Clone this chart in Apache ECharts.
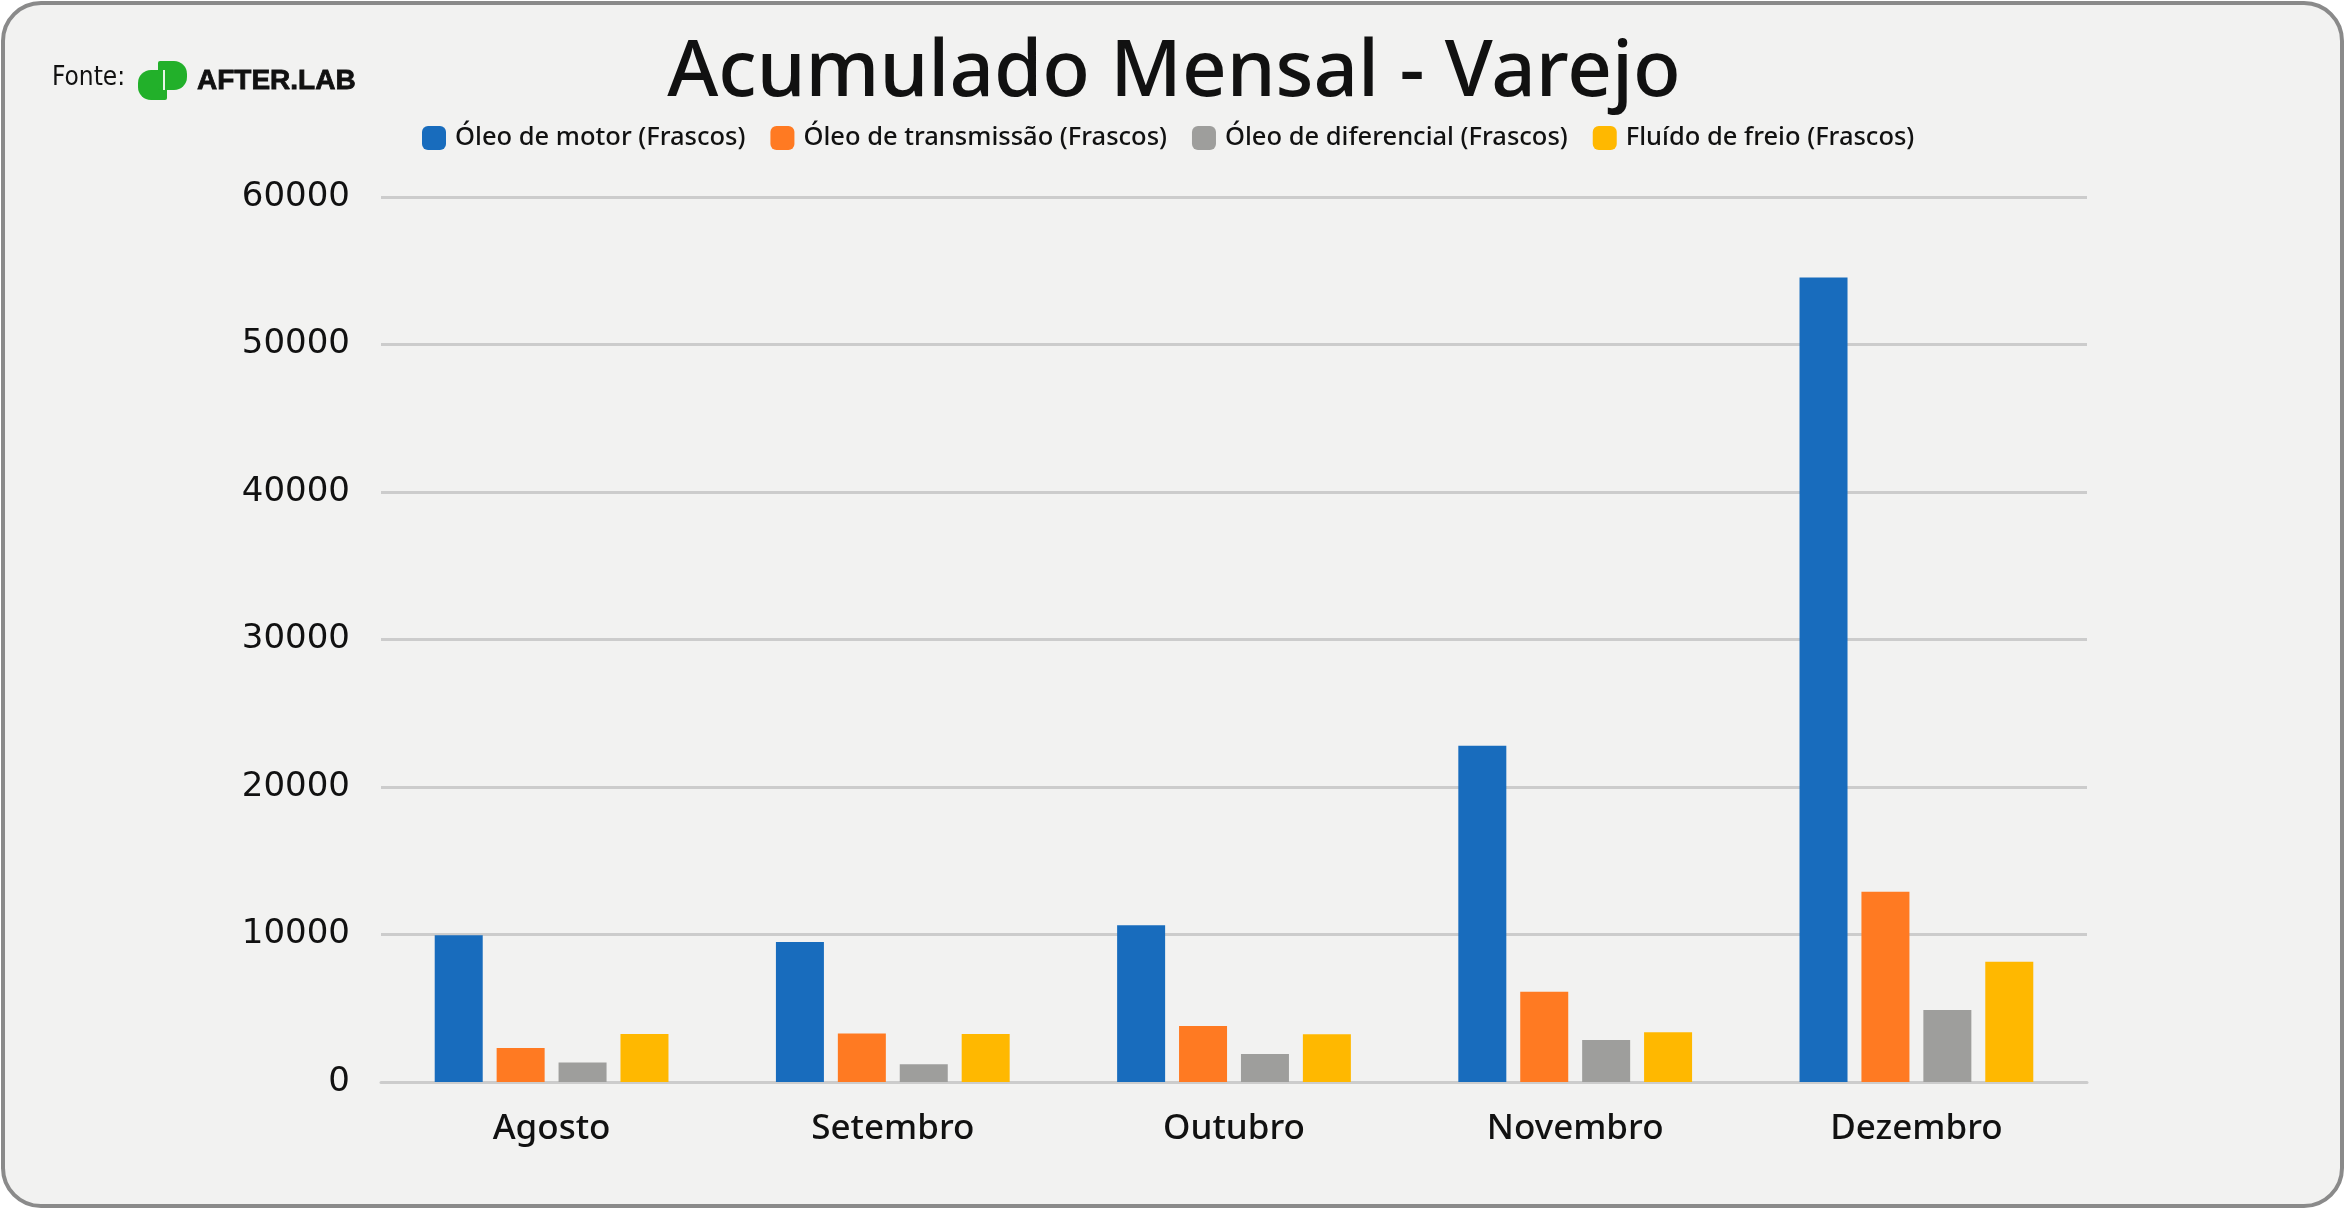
<!DOCTYPE html>
<html><head><meta charset="utf-8">
<script src="https://cdn.jsdelivr.net/npm/echarts@6/dist/echarts.min.js"></script>
<style>html,body{margin:0;padding:0;background:#ffffff;}#c{width:2346px;height:1210px;}</style>
</head><body><div id="c"></div>
<script>
const categories = ['Agosto', 'Setembro', 'Outubro', 'Novembro', 'Dezembro'];
const oleoMotor = [9950, 9500, 10620, 22800, 54550];
const oleoTransmissao = [2300, 3280, 3790, 6120, 12900];
const oleoDiferencial = [1330, 1200, 1900, 2850, 4880];
const fluidoFreio = [3250, 3250, 3240, 3370, 8160];
const seriesNames = ['Óleo de motor (Frascos)', 'Óleo de transmissão (Frascos)', 'Óleo de diferencial (Frascos)', 'Fluído de freio (Frascos)'];
const colors = ['#186CBD', '#FF7A22', '#9E9E9C', '#FFB800'];
const FONT = '"Noto Sans", sans-serif';

const chart = echarts.init(document.getElementById('c'), null, {renderer: 'canvas'});
const dataSets = [oleoMotor, oleoTransmissao, oleoDiferencial, fluidoFreio];
chart.setOption({
  backgroundColor: 'transparent',
  animation: false,
  color: colors,
  graphic: [
    {type: 'rect', z: -10, shape: {x: 3, y: 3, width: 2339, height: 1203, r: 38},
     style: {fill: '#F2F2F1', stroke: '#8a8a8a', lineWidth: 4}},
    {type: 'text', x: 1174, y: 74, style: {text: 'Acumulado Mensal - Varejo', font: '500 78px "Noto Sans"', fill: '#111', textAlign: 'center', textVerticalAlign: 'middle'}},
    {type: 'text', x: 52, y: 78, style: {text: 'Fonte:', font: '26px "Liberation Sans Narrow", "DejaVu Sans Condensed", sans-serif', fill: '#111', textAlign: 'left', textVerticalAlign: 'middle'}},
    {type: 'rect', shape: {x: 138, y: 70, width: 29, height: 30, r: [13, 2, 2, 13]}, style: {fill: '#22B02A'}},
    {type: 'rect', shape: {x: 158, y: 61, width: 29, height: 29, r: [2, 13, 13, 2]}, style: {fill: '#22B02A'}},
    {type: 'rect', shape: {x: 163, y: 70, width: 2, height: 20}, style: {fill: '#E8F5E8'}},
    {type: 'text', x: 197, y: 81, style: {text: 'AFTER.LAB', font: 'bold 28px "Liberation Sans", sans-serif', fill: '#111', stroke: '#111', lineWidth: 0.8, textAlign: 'left', textVerticalAlign: 'middle'}}
  ],
  legend: {
    left: 422, top: 125, padding: 0, itemWidth: 24, itemHeight: 24, itemGap: 25, icon: 'roundRect',
    textStyle: {fontFamily: FONT, fontSize: 25.5, fontWeight: 500, color: '#111', padding: [0, 0, 0, 4]},
    data: seriesNames
  },
  grid: {left: 381, right: 259, top: 197, bottom: 128},
  xAxis: {
    type: 'category', data: categories,
    axisLine: {show: true, lineStyle: {color: '#CCCCCC', width: 3}},
    axisTick: {show: false},
    axisLabel: {fontFamily: FONT, fontSize: 35, fontWeight: 500, color: '#111', margin: 30}
  },
  yAxis: {
    type: 'value', min: 0, max: 60000, interval: 10000,
    axisLine: {show: false}, axisTick: {show: false},
    axisLabel: {fontFamily: '"DejaVu Sans", sans-serif', fontSize: 34, fontWeight: 500, color: '#111', margin: 31,
      formatter: v => String(v)},
    splitLine: {lineStyle: {color: '#CCCCCC', width: 3}}
  },
  series: seriesNames.map((n, i) => ({
    name: n, type: 'bar', data: dataSets[i], barWidth: 48, barGap: '29%',
    itemStyle: {color: colors[i]}
  }))
});
</script></body></html>
